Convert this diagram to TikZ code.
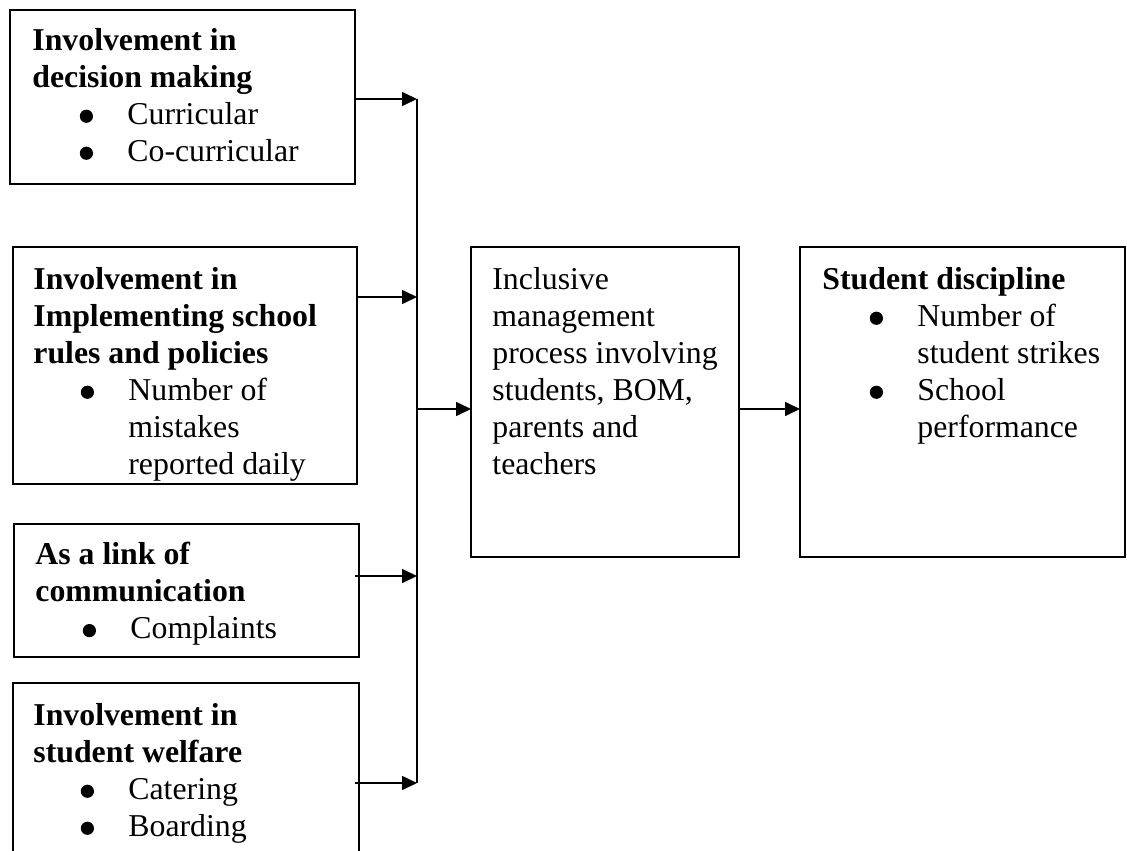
\documentclass[tikz,border=0pt]{standalone}
\usepackage{fontspec}
\setmainfont{Liberation Serif}
\usetikzlibrary{arrows.meta}
\newcommand*{\Dot}{\raisebox{0.8pt}{\tikz\fill (0,0) circle (3.3pt);}}
\newcommand*{\Item}[1]{\hspace*{23.7pt}\makebox[23.8pt][l]{\Dot}#1}% bullet line
\newcommand*{\Cont}{\hspace*{47.5pt}}% second line of a bullet

\begin{document}
\begin{tikzpicture}[x=0.5pt,y=-0.5pt,
    box/.style={draw,line width=1pt,outer sep=0pt,inner sep=0pt,anchor=north west},
    txt/.style={inner sep=0pt,anchor=north west,align=left,
      font=\fontsize{15.9pt}{18.5pt}\selectfont},
    feed/.style={->,line width=0.8pt},
    >={Triangle[length=7.5pt,width=7pt]}]
        \useasboundingbox (0,0) rectangle (1127,850);
        % boxes on the left
        \node[box,minimum width=172.5pt,minimum height=87pt]    (dm) at (10,10) {};
        \node[box,minimum width=172pt,minimum height=118.5pt]   (ir) at (13,247) {};
        \node[box,minimum width=172.5pt,minimum height=66.5pt]  (lc) at (14,524) {};
        \node[box,minimum width=173pt,minimum height=100pt]     (sw) at (13,683) {};
        % process and outcome
        \node[box,minimum width=134pt,minimum height=155pt]     (imp) at (471,247) {};
        \node[box,minimum width=162.5pt,minimum height=155pt]   (sd) at (800,247) {};

        \node[txt] (dm-text) at (32,28)
            {\textbf{Involvement in}\\ \textbf{decision making}\\
             \Item{Curricular}\\ \Item{Co-curricular}};
        \node[txt] (ir-text) at (33,267)
            {\textbf{Involvement in}\\ \textbf{Implementing school}\\ \textbf{rules and policies}\\
             \Item{Number of}\\ \Cont mistakes\\ \Cont reported daily};
        \node[txt] (lc-text) at (35,542)
            {\textbf{As a link of}\\ \textbf{communication}\\ \Item{Complaints}};
        \node[txt] (sw-text) at (33,703)
            {\textbf{Involvement in}\\ \textbf{student welfare}\\
             \Item{Catering}\\ \Item{Boarding}};
        \node[txt] (imp-text) at (492,267)
            {Inclusive\\ management\\ process involving\\ students, BOM,\\ parents and\\ teachers};
        \node[txt] (sd-text) at (822,267)
            {\textbf{Student discipline}\\ \Item{Number of}\\ \Cont student strikes\\
             \Item{School}\\ \Cont performance};

        % connectors
        \foreach \b/\y/\s in {dm/99/0,ir/297/0,lc/576/-2,sw/783/-2} {
            \coordinate (bus-\b) at (417,\y);
            \draw[feed] ([xshift=\s pt]\b.east |- bus-\b) -- (bus-\b);
        }
        \draw[line width=0.8pt] (bus-dm) -- (bus-sw);
        \coordinate (hub) at (417,409);
        \draw[feed] (hub) -- (imp.west |- hub);
        \draw[feed] (imp.east |- hub) -- (sd.west |- hub);
    \end{tikzpicture}
\end{document}
